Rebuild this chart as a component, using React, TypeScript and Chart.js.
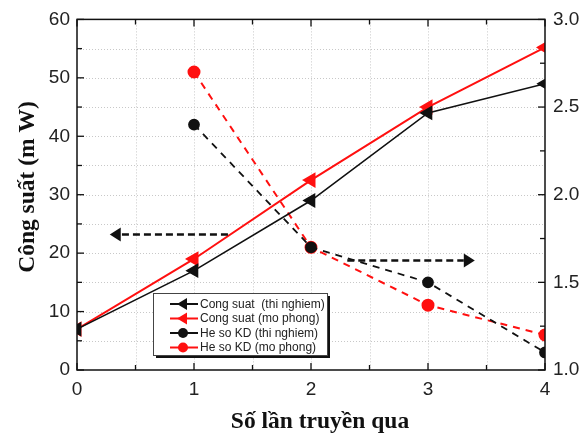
import React, { useEffect, useRef } from "react";
import { Chart, registerables } from "chart.js";

Chart.register(...registerables);

// ---- data ----
const passes = [0, 1, 2, 3, 4];
const powerExp = [7, 17, 29, 44, 49];
const powerSim = [7, 19, 32.5, 45, 55.2];
const kdPasses = [1, 2, 3, 4];
const kdExp = [2.4, 1.7, 1.5, 1.1];
const kdSim = [2.7, 1.7, 1.37, 1.2];
const seriesLabels = [
  "Cong suat  (thi nghiem)",
  "Cong suat (mo phong)",
  "He so KD (thi nghiem)",
  "He so KD (mo phong)",
];
// annotation arrows in data units
const arrowPowerFrom = [1.29, 23.2];
const arrowPowerTo = [0.28, 23.2];
const arrowKdFrom = [2.31, 1.625];
const arrowKdTo = [3.4, 1.625];
const xTitle = "Số lần truyền qua";
const yTitle = "Công suất (m W)";

const RED = "#ff1010";
const BLACK = "#111111";

function pts(xs: number[], ys: number[]) {
  return xs.map((x, i) => ({ x, y: ys[i] }));
}

function drawArrow(ctx: CanvasRenderingContext2D, x1: number, y1: number, x2: number, y2: number) {
  const dir = Math.sign(x2 - x1);
  const headLen = 11;
  ctx.save();
  ctx.strokeStyle = BLACK;
  ctx.lineWidth = 2.5;
  ctx.setLineDash([7, 4]);
  ctx.beginPath();
  ctx.moveTo(x1, y1);
  ctx.lineTo(x2 - dir * headLen, y2);
  ctx.stroke();
  ctx.setLineDash([]);
  ctx.fillStyle = BLACK;
  ctx.beginPath();
  ctx.moveTo(x2, y2);
  ctx.lineTo(x2 - dir * headLen, y2 - 7);
  ctx.lineTo(x2 - dir * headLen, y2 + 7);
  ctx.closePath();
  ctx.fill();
  ctx.restore();
}

const framePlugin = {
  id: "frame",
  beforeDatasetsDraw(chart: any) {
    const { ctx, chartArea: a, scales } = chart;
    ctx.save();
    ctx.strokeStyle = "#c8c8c8";
    ctx.lineWidth = 1;
    ctx.setLineDash([1, 2]);
    scales.x.ticks.forEach((t: any) => {
      const px = Math.round(scales.x.getPixelForValue(t.value)) + 0.5;
      if (t.value <= 0 || t.value >= 4) return;
      ctx.beginPath();
      ctx.moveTo(px, a.top);
      ctx.lineTo(px, a.bottom);
      ctx.stroke();
    });
    scales.y.ticks.forEach((t: any) => {
      const py = Math.round(scales.y.getPixelForValue(t.value)) + 0.5;
      if (t.value <= 0 || t.value >= 60) return;
      ctx.beginPath();
      ctx.moveTo(a.left, py);
      ctx.lineTo(a.right, py);
      ctx.stroke();
    });
    ctx.restore();
  },
  afterDraw(chart: any) {
    const { ctx, chartArea: a, scales } = chart;
    ctx.save();
    // frame
    ctx.strokeStyle = BLACK;
    ctx.lineWidth = 1.5;
    ctx.strokeRect(a.left, a.top, a.right - a.left, a.bottom - a.top);
    // inside ticks
    ctx.lineWidth = 1.3;
    scales.x.ticks.forEach((t: any) => {
      const px = scales.x.getPixelForValue(t.value);
      const len = Number.isInteger(t.value) ? 7 : 5;
      ctx.beginPath();
      ctx.moveTo(px, a.bottom);
      ctx.lineTo(px, a.bottom - len);
      ctx.moveTo(px, a.top);
      ctx.lineTo(px, a.top + len);
      ctx.stroke();
    });
    scales.y.ticks.forEach((t: any) => {
      const py = scales.y.getPixelForValue(t.value);
      const len = t.value % 10 === 0 ? 7 : 5;
      ctx.beginPath();
      ctx.moveTo(a.left, py);
      ctx.lineTo(a.left + len, py);
      ctx.stroke();
    });
    scales.y1.ticks.forEach((t: any) => {
      const py = scales.y1.getPixelForValue(t.value);
      const major = Math.abs(t.value * 2 - Math.round(t.value * 2)) < 1e-6;
      const len = major ? 7 : 5;
      ctx.beginPath();
      ctx.moveTo(a.right, py);
      ctx.lineTo(a.right - len, py);
      ctx.stroke();
    });

    // arrows
    drawArrow(
      ctx,
      scales.x.getPixelForValue(arrowPowerFrom[0]),
      scales.y.getPixelForValue(arrowPowerFrom[1]),
      scales.x.getPixelForValue(arrowPowerTo[0]),
      scales.y.getPixelForValue(arrowPowerTo[1])
    );
    drawArrow(
      ctx,
      scales.x.getPixelForValue(arrowKdFrom[0]),
      scales.y1.getPixelForValue(arrowKdFrom[1]),
      scales.x.getPixelForValue(arrowKdTo[0]),
      scales.y1.getPixelForValue(arrowKdTo[1])
    );

    // legend
    const lx = Math.round(scales.x.getPixelForValue(0.65));
    const ly = Math.round(scales.y.getPixelForValue(13.2));
    const lw = 174;
    const lh = 62;
    ctx.fillStyle = BLACK;
    ctx.fillRect(lx + 3, ly + 3, lw, lh);
    ctx.fillStyle = "#ffffff";
    ctx.fillRect(lx, ly, lw, lh);
    ctx.strokeStyle = "#444";
    ctx.lineWidth = 1;
    ctx.strokeRect(lx + 0.5, ly + 0.5, lw, lh);
    chart.data.datasets.forEach((ds: any, i: number) => {
      const cy = ly + 11 + i * 14.5;
      const x0 = lx + 17;
      const xm = lx + 30;
      const x1 = lx + 45;
      ctx.strokeStyle = ds.borderColor;
      ctx.lineWidth = 2;
      ctx.setLineDash([]);
      ctx.beginPath();
      ctx.moveTo(x0, cy);
      ctx.lineTo(xm - 4, cy);
      ctx.moveTo(xm + 4, cy);
      ctx.lineTo(x1, cy);
      ctx.stroke();
      ctx.fillStyle = ds.pointBackgroundColor;
      ctx.beginPath();
      if (ds.pointStyle === "triangle") {
        ctx.moveTo(xm - 6, cy);
        ctx.lineTo(xm + 4, cy - 6);
        ctx.lineTo(xm + 4, cy + 6);
        ctx.closePath();
      } else {
        ctx.arc(xm, cy, 5, 0, Math.PI * 2);
      }
      ctx.fill();
      ctx.fillStyle = "#222";
      ctx.font = "12px 'Liberation Sans', Arial, sans-serif";
      ctx.textBaseline = "middle";
      ctx.textAlign = "left";
      ctx.fillText(ds.label, lx + 47, cy + 0.5);
    });

    // axis titles
    ctx.fillStyle = "#111";
    ctx.font = "bold 23.5px 'Liberation Serif', 'Times New Roman', serif";
    ctx.textAlign = "center";
    ctx.textBaseline = "alphabetic";
    ctx.fillText(xTitle, 320, 428);
    ctx.save();
    ctx.translate(34, 187);
    ctx.rotate(-Math.PI / 2);
    ctx.fillText(yTitle, 0, 0);
    ctx.restore();
    ctx.restore();
  },
};

export default function App() {
  const ref = useRef<HTMLCanvasElement | null>(null);
  useEffect(() => {
    if (!ref.current) return;
    const tickFont = { family: "'Liberation Sans', Arial, sans-serif", size: 19 };
    const chart = new Chart(ref.current, {
      type: "line",
      data: {
        datasets: [
          {
            label: seriesLabels[0],
            data: pts(passes, powerExp),
            yAxisID: "y",
            borderColor: BLACK,
            backgroundColor: BLACK,
            pointBackgroundColor: BLACK,
            pointBorderColor: BLACK,
            borderWidth: 1.6,
            pointStyle: "triangle",
            pointRotation: -90,
            pointRadius: 7,
          },
          {
            label: seriesLabels[1],
            data: pts(passes, powerSim),
            yAxisID: "y",
            borderColor: RED,
            backgroundColor: RED,
            pointBackgroundColor: RED,
            pointBorderColor: RED,
            borderWidth: 2,
            pointStyle: "triangle",
            pointRotation: -90,
            pointRadius: 7,
          },
          {
            label: seriesLabels[2],
            data: pts(kdPasses, kdExp),
            yAxisID: "y1",
            borderColor: BLACK,
            backgroundColor: BLACK,
            pointBackgroundColor: BLACK,
            pointBorderColor: BLACK,
            borderWidth: 1.8,
            borderDash: [7, 6],
            pointStyle: "circle",
            pointRadius: 5,
          },
          {
            label: seriesLabels[3],
            data: pts(kdPasses, kdSim),
            yAxisID: "y1",
            borderColor: RED,
            backgroundColor: RED,
            pointBackgroundColor: RED,
            pointBorderColor: RED,
            borderWidth: 2,
            borderDash: [7, 6],
            pointStyle: "circle",
            pointRadius: 5.5,
          },
        ],
      },
      options: {
        animation: false,
        responsive: true,
        maintainAspectRatio: false,
        layout: { padding: { top: 18, left: 0, right: 0, bottom: 0 } },
        plugins: { legend: { display: false }, tooltip: { enabled: false } },
        scales: {
          x: {
            type: "linear",
            min: 0,
            max: 4,
            grid: { display: false, drawTicks: false },
            border: { display: false },
            ticks: {
              stepSize: 0.5,
              autoSkip: false,
              maxRotation: 0,
              padding: 8,
              color: "#222",
              font: tickFont,
              callback: (v: any) => (Number.isInteger(v) ? String(v) : ""),
            },
            afterFit: (s: any) => {
              s.height = 65;
            },
          },
          y: {
            type: "linear",
            position: "left",
            min: 0,
            max: 60,
            grid: { display: false, drawTicks: false },
            border: { display: false },
            ticks: {
              stepSize: 5,
              autoSkip: false,
              padding: 7,
              color: "#222",
              font: tickFont,
              callback: (v: any) => (v % 10 === 0 ? String(v) : ""),
            },
            afterFit: (s: any) => {
              s.width = 77;
            },
          },
          y1: {
            type: "linear",
            position: "right",
            min: 1,
            max: 3,
            grid: { display: false, drawTicks: false },
            border: { display: false },
            ticks: {
              stepSize: 0.25,
              autoSkip: false,
              padding: 8,
              color: "#222",
              font: tickFont,
              callback: (v: any) =>
                Math.abs(v * 2 - Math.round(v * 2)) < 1e-6 ? Number(v).toFixed(1) : "",
            },
            afterFit: (s: any) => {
              s.width = 37;
            },
          },
        },
      },
      plugins: [framePlugin],
    });
    return () => chart.destroy();
  }, []);
  return (
    <div style={{ position: "fixed", left: 0, top: 0, width: 582, height: 435, background: "#fff" }}>
      <canvas ref={ref} />
    </div>
  );
}
